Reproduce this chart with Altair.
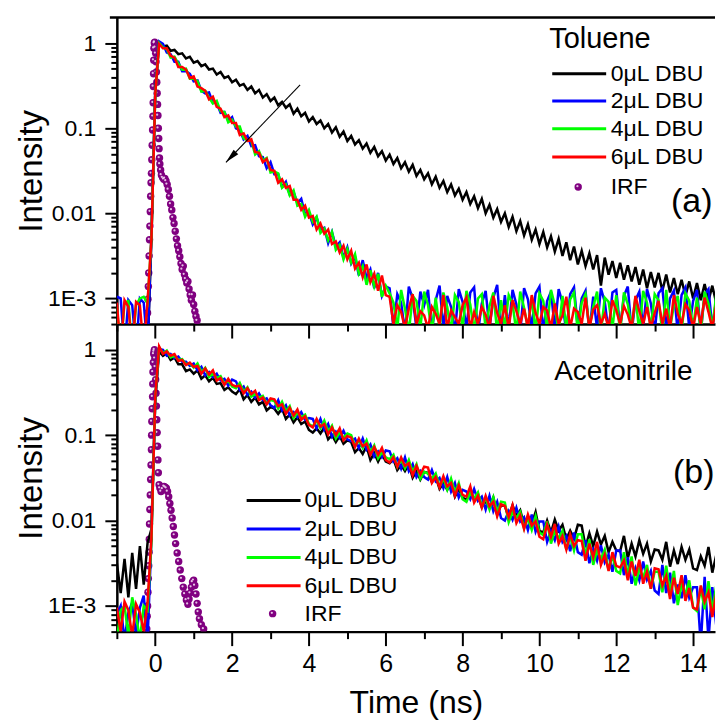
import altair as alt
import pandas as pd

# ---------------------------------------------------------------- data
# TCSPC channel times (ns), 0.1 ns channels from -1 to 15 ns
times = [round(-1.0 + 0.1 * i, 1) for i in range(161)]

SERIES_NAMES = ["0μL DBU", "2μL DBU", "4μL DBU", "6μL DBU"]
SERIES_COLORS = ["#000000", "#0000FF", "#00FF00", "#FF0000"]
IRF_COLOR = "#800080"
SOLVENTS = ["Toluene", "Acetonitrile"]
PANEL_TAGS = ["(a)", "(b)"]

# All traces are stored as decades below the normalised peak
# (intensity = 10 ** -value).  Values > 3.3 are empty channels (below axis).

# ---- panel (a) Toluene : t = -1.0 ... -0.2 (pre), -0.1/0.0/0.1 (rise)
tol_0_pre = [3.6, 3.6, 3.6, 3.6, 3.6, 3.6, 3.6, 3.6, 3.6]
tol_2_pre = [2.98, 3.0, 3.6, 3.02, 3.08, 3.6, 3.0, 3.05, 3.6]
tol_4_pre = [3.1, 3.6, 3.05, 3.03, 3.6, 3.08, 3.0, 2.98, 3.06]
tol_6_pre = [3.05, 3.6, 3.02, 3.1, 3.6, 3.04, 3.08, 3.6, 3.03]
tol_0_rise = [2.3, 0.55, 0.0]
tol_2_rise = [2.25, 0.58, -0.02]
tol_4_rise = [2.3, 0.6, 0.0]
tol_6_rise = [2.3, 0.6, 0.01]

# t = 0.2 ... 15.0
tol_0_decay = [
    0.04, 0.03, 0.09, 0.08, 0.13, 0.12, 0.18, 0.16, 0.23,
    0.21, 0.27, 0.25, 0.31, 0.30, 0.37, 0.34, 0.41, 0.39, 0.46,
    0.43, 0.50, 0.48, 0.55, 0.51, 0.59, 0.55, 0.64, 0.60, 0.68,
    0.64, 0.73, 0.69, 0.76, 0.72, 0.83, 0.77, 0.86, 0.82, 0.92,
    0.87, 0.95, 0.91, 1.00, 0.95, 1.05, 0.99, 1.10, 1.04, 1.15,
    1.09, 1.19, 1.14, 1.24, 1.18, 1.29, 1.22, 1.33, 1.27, 1.38,
    1.31, 1.42, 1.35, 1.47, 1.40, 1.51, 1.43, 1.56, 1.49, 1.60,
    1.53, 1.66, 1.57, 1.70, 1.62, 1.75, 1.66, 1.79, 1.71, 1.84,
    1.75, 1.89, 1.80, 1.94, 1.83, 2.00, 1.90, 2.05, 1.95, 2.10,
    2.00, 2.16, 2.04, 2.21, 2.09, 2.26, 2.13, 2.31, 2.19, 2.36,
    2.22, 2.40, 2.27, 2.45, 2.30, 2.50, 2.34, 2.55, 2.39, 2.60,
    2.44, 2.62, 2.47, 2.66, 2.49, 2.85, 2.52, 2.72, 2.56, 2.76,
    2.58, 2.78, 2.61, 2.80, 2.63, 2.84, 2.66, 2.88, 2.69, 2.87,
    2.70, 2.91, 2.72, 2.93, 2.76, 2.95, 2.78, 2.97, 2.80, 3.00,
    2.82, 3.02, 2.83, 3.03, 2.85, 3.05, 2.86, 3.07, 2.88, 3.08,
]
# t = 0.2 ... 6.0
tol_2_decay = [
    0.01, 0.11, 0.13, 0.22, 0.22, 0.33, 0.33, 0.36, 0.45, 0.44,
    0.56, 0.59, 0.58, 0.70, 0.70, 0.82, 0.81, 0.91, 0.87, 1.00,
    1.02, 1.13, 1.09, 1.21, 1.20, 1.33, 1.34, 1.47, 1.40, 1.54,
    1.54, 1.69, 1.63, 1.78, 1.75, 1.88, 1.83, 2.01, 1.99, 2.13,
    2.05, 2.19, 2.17, 2.35, 2.22, 2.39, 2.34, 2.52, 2.40, 2.59,
    2.51, 2.73, 2.55, 2.76, 2.66, 2.88, 2.70, 2.97, 2.86,
]
tol_4_decay = [
    0.05, 0.07, 0.17, 0.16, 0.24, 0.31, 0.30, 0.42, 0.42, 0.45,
    0.57, 0.56, 0.64, 0.71, 0.68, 0.80, 0.81, 0.93, 0.90, 0.98,
    0.98, 1.12, 1.14, 1.15, 1.31, 1.27, 1.38, 1.35, 1.52, 1.51,
    1.53, 1.70, 1.66, 1.79, 1.73, 1.91, 1.89, 2.04, 1.96, 2.10,
    2.04, 2.23, 2.18, 2.32, 2.22, 2.43, 2.37, 2.54, 2.42, 2.58,
    2.48, 2.71, 2.62, 2.84, 2.67, 2.86, 2.71, 2.98, 2.85,
]
tol_6_decay = [
    0.06, 0.06, 0.15, 0.17, 0.28, 0.28, 0.31, 0.41, 0.39, 0.51,
    0.53, 0.56, 0.66, 0.63, 0.75, 0.77, 0.87, 0.85, 0.94, 0.94,
    1.08, 1.06, 1.15, 1.13, 1.28, 1.29, 1.40, 1.36, 1.49, 1.50,
    1.64, 1.60, 1.70, 1.68, 1.84, 1.84, 1.96, 1.91, 2.05, 2.03,
    2.19, 2.12, 2.24, 2.19, 2.36, 2.33, 2.46, 2.38, 2.54, 2.44,
    2.65, 2.58, 2.75, 2.60, 2.81, 2.71, 2.91, 2.73, 2.96,
]
# background after decay, t = 6.1 ... 15.0
tol_2_floor = [
    2.88, 3.35, 2.95, 3.05, 3.4, 2.86, 3.0, 3.35, 2.92, 3.08,
    2.9, 3.4, 3.02, 2.85, 3.35, 2.97, 3.1, 3.4, 2.89, 3.04,
    3.35, 2.93, 2.87, 3.4, 3.06, 2.91, 3.35, 2.99, 2.84, 3.4,
    2.96, 3.35, 2.9, 3.07, 3.4, 2.88, 3.01, 3.35, 2.94, 2.86,
    3.4, 3.03, 2.92, 3.35, 2.89, 3.05, 3.4, 2.95, 2.87, 3.35,
    3.0, 2.91, 3.4, 2.98, 3.35, 2.88, 3.04, 3.4, 2.93, 2.9,
    3.35, 2.97, 2.86, 3.4, 3.02, 2.92, 3.35, 2.89, 3.06, 3.4,
    2.94, 2.88, 3.35, 3.0, 2.91, 3.4, 2.96, 2.87, 3.35, 3.03,
    2.9, 3.4, 2.95, 2.89, 3.35, 3.01, 2.93, 3.4, 2.88, 2.97,
]
tol_4_floor = [
    2.94, 3.05, 3.35, 2.9, 3.12, 3.4, 2.97, 3.03, 3.35, 2.92,
    3.08, 3.4, 2.99, 3.35, 2.93, 3.1, 3.4, 2.96, 3.04, 3.35,
    2.91, 3.07, 3.4, 3.0, 2.95, 3.35, 3.09, 2.93, 3.4, 3.02,
    3.35, 2.96, 3.06, 3.4, 2.92, 3.11, 3.35, 2.98, 3.4, 2.94,
    3.03, 3.35, 2.9, 3.08, 3.4, 2.97, 3.35, 3.01, 2.93, 3.4,
    3.05, 2.95, 3.35, 3.1, 2.92, 3.4, 2.99, 3.04, 3.35, 2.96,
    3.4, 2.93, 3.07, 3.35, 2.98, 3.4, 2.91, 3.05, 3.35, 2.95,
    3.02, 3.4, 2.9, 3.35, 3.08, 2.97, 3.4, 2.94, 3.03, 3.35,
    2.99, 3.4, 2.92, 3.06, 3.35, 2.96, 3.01, 3.4, 2.94, 3.04,
]
tol_6_floor = [
    2.98, 3.3, 3.08, 3.16, 3.35, 3.12, 2.95, 3.3, 3.15, 3.2,
    3.35, 3.1, 3.18, 3.3, 2.96, 3.35, 3.14, 3.22, 3.3, 3.08,
    2.99, 3.35, 3.16, 3.3, 3.1, 3.19, 3.35, 2.97, 3.17, 3.3,
    3.08, 3.35, 3.02, 3.15, 3.3, 3.12, 3.35, 2.96, 3.17, 3.3,
    3.1, 3.14, 3.35, 3.06, 3.3, 3.2, 2.98, 3.35, 3.12, 3.16,
    3.3, 2.99, 3.35, 3.13, 3.08, 3.3, 3.18, 3.35, 3.02, 3.14,
    3.3, 3.09, 3.19, 3.35, 2.97, 3.15, 3.3, 3.1, 3.35, 3.17,
    3.03, 3.3, 3.12, 3.35, 2.96, 3.18, 3.3, 3.07, 3.14, 3.35,
    3.1, 3.3, 2.99, 3.16, 3.35, 3.08, 3.13, 3.3, 3.02, 3.15,
]

# ---- panel (b) Acetonitrile
ace_0_pre = [2.5, 2.85, 2.45, 2.9, 2.38, 2.8, 2.3, 2.75, 2.26]
ace_2_pre = [3.1, 3.0, 3.4, 3.08, 2.96, 3.35, 3.02, 2.88, 3.4]
ace_4_pre = [3.4, 3.05, 3.0, 3.35, 2.9, 3.1, 3.4, 3.0, 3.05]
ace_6_pre = [3.02, 3.3, 2.95, 3.05, 3.35, 2.98, 3.08, 3.3, 2.96]
ace_0_rise = [2.1, 0.6, 0.02]
ace_2_rise = [2.2, 0.55, -0.01]
ace_4_rise = [2.25, 0.55, -0.03]
ace_6_rise = [2.2, 0.55, -0.04]

ace_0_decay = [
    0.07, 0.04, 0.12, 0.09, 0.17, 0.17, 0.25, 0.23, 0.28,
    0.24, 0.34, 0.30, 0.37, 0.33, 0.40, 0.39, 0.47, 0.44, 0.49,
    0.52, 0.46, 0.58, 0.53, 0.61, 0.56, 0.64, 0.61, 0.71, 0.67,
    0.69, 0.75, 0.69, 0.81, 0.76, 0.85, 0.79, 0.87, 0.84, 0.94,
    0.97, 0.92, 0.98, 0.91, 1.05, 1.00, 1.08, 1.01, 1.10, 1.06,
    1.08, 1.20, 1.15, 1.22, 1.13, 1.29, 1.21, 1.31, 1.22, 1.31,
    1.33, 1.28, 1.41, 1.35, 1.42, 1.34, 1.50, 1.42, 1.52, 1.43,
    1.44, 1.55, 1.49, 1.63, 1.56, 1.64, 1.54, 1.72, 1.63, 1.73,
    1.76, 1.64, 1.76, 1.69, 1.84, 1.77, 1.85, 1.73, 1.93, 1.82,
    1.83, 1.96, 1.82, 1.95, 1.88, 2.05, 1.95, 2.04, 1.90, 2.12,
    2.14, 2.00, 2.14, 1.99, 2.12, 2.05, 2.22, 2.12, 2.21, 2.05,
    2.06, 2.31, 2.15, 2.30, 2.13, 2.28, 2.18, 2.37, 2.25, 2.35,
    2.36, 2.18, 2.44, 2.27, 2.42, 2.23, 2.39, 2.27, 2.48, 2.34,
    2.35, 2.46, 2.25, 2.54, 2.35, 2.51, 2.31, 2.46, 2.34, 2.56,
    2.58, 2.42, 2.53, 2.31, 2.61, 2.41, 2.58, 2.36, 2.53, 2.39,
]
ace_2_decay = [
    0.00, 0.07, 0.05, 0.10, 0.08, 0.14, 0.14, 0.19, 0.16,
    0.24, 0.20, 0.30, 0.26, 0.32, 0.28, 0.36, 0.34, 0.42, 0.35,
    0.37, 0.47, 0.43, 0.53, 0.49, 0.56, 0.51, 0.59, 0.57, 0.65,
    0.68, 0.59, 0.71, 0.65, 0.77, 0.73, 0.79, 0.73, 0.82, 0.80,
    0.81, 0.92, 0.81, 0.94, 0.87, 1.02, 0.96, 1.03, 0.95, 1.05,
    1.07, 1.04, 1.15, 1.04, 1.17, 1.11, 1.25, 1.19, 1.26, 1.18,
    1.19, 1.31, 1.27, 1.39, 1.26, 1.42, 1.34, 1.49, 1.42, 1.49,
    1.52, 1.41, 1.54, 1.50, 1.62, 1.49, 1.66, 1.56, 1.73, 1.64,
    1.66, 1.75, 1.63, 1.77, 1.72, 1.87, 1.71, 1.89, 1.78, 1.97,
    2.00, 1.89, 1.99, 1.85, 2.01, 1.96, 2.11, 1.93, 2.13, 2.01,
    2.01, 2.25, 2.12, 2.23, 2.07, 2.25, 2.18, 2.36, 2.14, 2.37,
    2.40, 2.23, 2.50, 2.34, 2.47, 2.29, 2.49, 2.40, 2.60, 2.35,
    2.35, 2.64, 2.43, 2.74, 2.56, 2.70, 2.48, 2.69, 2.59, 2.82,
    2.86, 2.52, 2.85, 2.61, 2.97, 2.75, 2.91, 2.64, 2.90, 2.78,
    2.78, 3.45, 2.66, 3.40, 2.78, 3.22, 2.94, 3.13, 2.80, 3.12,
]
ace_4_decay = [
    0.04, 0.01, 0.09, 0.07, 0.12, 0.11, 0.17, 0.16, 0.21,
    0.16, 0.26, 0.21, 0.32, 0.28, 0.33, 0.31, 0.40, 0.36, 0.43,
    0.45, 0.39, 0.49, 0.44, 0.55, 0.52, 0.56, 0.54, 0.63, 0.59,
    0.60, 0.69, 0.61, 0.72, 0.66, 0.80, 0.74, 0.79, 0.76, 0.87,
    0.90, 0.83, 0.92, 0.83, 0.96, 0.89, 1.04, 0.97, 1.03, 0.98,
    1.00, 1.13, 1.06, 1.15, 1.06, 1.20, 1.12, 1.27, 1.20, 1.26,
    1.28, 1.23, 1.37, 1.28, 1.39, 1.29, 1.43, 1.34, 1.51, 1.43,
    1.45, 1.51, 1.45, 1.60, 1.51, 1.64, 1.51, 1.67, 1.56, 1.75,
    1.78, 1.67, 1.74, 1.67, 1.84, 1.74, 1.87, 1.73, 1.90, 1.78,
    1.79, 2.02, 1.90, 1.97, 1.90, 2.09, 1.97, 2.11, 1.95, 2.14,
    2.17, 2.01, 2.27, 2.12, 2.21, 2.12, 2.34, 2.19, 2.35, 2.16,
    2.16, 2.41, 2.22, 2.52, 2.35, 2.45, 2.34, 2.58, 2.41, 2.59,
    2.62, 2.37, 2.64, 2.42, 2.76, 2.56, 2.67, 2.52, 2.80, 2.60,
    2.60, 2.84, 2.53, 2.85, 2.59, 2.99, 2.75, 2.86, 2.70, 3.02,
    3.06, 2.79, 3.04, 2.71, 3.06, 2.77, 3.21, 2.94, 3.07, 2.89,
]
ace_6_decay = [
    0.05, 0.02, 0.07, 0.05, 0.13, 0.12, 0.18, 0.15, 0.20,
    0.19, 0.28, 0.22, 0.29, 0.24, 0.36, 0.33, 0.41, 0.34, 0.41,
    0.43, 0.42, 0.51, 0.45, 0.52, 0.48, 0.59, 0.56, 0.64, 0.57,
    0.58, 0.66, 0.64, 0.75, 0.68, 0.77, 0.70, 0.82, 0.78, 0.88,
    0.91, 0.81, 0.90, 0.87, 0.99, 0.91, 1.00, 0.92, 1.06, 1.01,
    1.03, 1.14, 1.04, 1.13, 1.10, 1.23, 1.14, 1.23, 1.15, 1.29,
    1.32, 1.26, 1.37, 1.26, 1.36, 1.33, 1.47, 1.36, 1.46, 1.37,
    1.38, 1.56, 1.49, 1.61, 1.48, 1.60, 1.56, 1.71, 1.59, 1.70,
    1.72, 1.60, 1.79, 1.71, 1.85, 1.71, 1.83, 1.78, 1.95, 1.81,
    1.83, 1.96, 1.82, 2.03, 1.94, 2.10, 1.93, 2.06, 2.01, 2.19,
    2.22, 2.05, 2.19, 2.04, 2.27, 2.18, 2.34, 2.16, 2.30, 2.23,
    2.24, 2.47, 2.27, 2.43, 2.25, 2.52, 2.40, 2.59, 2.37, 2.53,
    2.55, 2.47, 2.70, 2.48, 2.65, 2.46, 2.74, 2.60, 2.80, 2.56,
    2.57, 2.76, 2.65, 2.92, 2.67, 2.86, 2.64, 2.94, 2.79, 3.02,
    3.04, 2.76, 2.95, 2.84, 3.13, 2.86, 3.06, 2.82, 3.15, 2.99,
]

# ---- instrument response functions (time ns, decades below peak)
irf_tol_t = [
    -0.20, -0.19, -0.18, -0.17, -0.16, -0.15, -0.14, -0.13, -0.12, -0.11,
    -0.10, -0.09, -0.08, -0.07, -0.06, -0.055, -0.05, -0.045, -0.04, -0.035,
    -0.025, -0.015,
    0.0, 0.01, 0.02, 0.03, 0.04, 0.05, 0.06, 0.07, 0.08, 0.09,
    0.10, 0.11, 0.12, 0.14, 0.16,
    0.19, 0.22, 0.25, 0.28, 0.31, 0.34, 0.37, 0.40, 0.43, 0.46,
    0.49, 0.52, 0.55, 0.58, 0.61, 0.64, 0.67, 0.70, 0.73, 0.76,
    0.79, 0.82, 0.85, 0.88, 0.91, 0.94, 0.97, 1.00, 1.03, 1.06,
    1.09,
]
irf_tol_dec = [
    3.17, 3.01, 2.86, 2.70, 2.50, 2.31, 2.15, 1.98, 1.80, 1.64,
    1.53, 1.37, 1.20, 1.02, 0.86, 0.70, 0.51, 0.36, 0.20, 0.06,
    0.0, -0.01,
    0.05, 0.12, 0.22, 0.34, 0.46, 0.59, 0.72, 0.85, 1.0, 1.12,
    1.24, 1.35, 1.42, 1.49, 1.55,
    1.58, 1.60, 1.59, 1.62, 1.66, 1.72, 1.80, 1.89, 1.96, 2.05,
    2.12, 2.21, 2.30, 2.38, 2.44, 2.51, 2.59, 2.66, 2.62, 2.72,
    2.77, 2.82, 2.80, 2.89, 2.96, 3.02, 2.96, 3.07, 3.15, 3.21,
    3.26,
]
irf_ace_t = [
    -0.22, -0.21, -0.20, -0.19, -0.18, -0.17, -0.16, -0.155, -0.15, -0.14,
    -0.13, -0.12, -0.11, -0.10, -0.095, -0.09, -0.08, -0.07, -0.065, -0.06,
    -0.05, -0.04,
    -0.03, -0.02,
    -0.01, 0.0, 0.01, 0.02, 0.03, 0.04, 0.05, 0.06, 0.07, 0.08, 0.10,
    0.12, 0.15, 0.19, 0.23, 0.26, 0.29, 0.32, 0.35, 0.38, 0.41,
    0.44, 0.47, 0.50, 0.53, 0.57, 0.61, 0.65, 0.69, 0.73, 0.77,
    0.81, 0.85, 0.88, 0.91, 0.94, 0.97, 1.0, 1.03, 1.06, 1.09,
    1.12, 1.15, 1.2, 1.26,
]
irf_ace_dec = [
    3.27, 3.12, 3.0, 2.84, 2.68, 2.53, 2.37, 2.22, 2.04, 1.87,
    1.70, 1.52, 1.35, 1.17, 1.0, 0.84, 0.69, 0.55, 0.40, 0.26,
    0.15, 0.05,
    0.02, 0.0,
    0.1, 0.2, 0.35, 0.51, 0.66, 0.82, 0.97, 1.13, 1.29, 1.44, 1.58,
    1.62, 1.66, 1.63, 1.60, 1.61, 1.62, 1.66, 1.72, 1.80, 1.88,
    1.97, 2.07, 2.17, 2.27, 2.38, 2.48, 2.58, 2.68, 2.78, 2.86,
    2.93, 2.98, 2.92, 2.85, 2.78, 2.72, 2.70, 2.76, 2.86, 2.97,
    3.07, 3.15, 3.22, 3.27,
]

# arrow in panel (a): (time ns, decades below peak) of tail and head
arrow_t = [3.77, 1.84]
arrow_dec = [0.49, 1.40]

# ---------------------------------------------------------------- helpers
FONT = "Liberation Sans"
X_MAX = 14.57
W, H_TOP, H_BOT = 599, 307, 308


def trace_df(values):
    assert len(values) == len(times), len(values)
    df = pd.DataFrame({"t": times, "I": [10 ** (-v) for v in values]})
    return df[df.t <= X_MAX + 0.05].reset_index(drop=True)


def points_df(ts, decs):
    assert len(ts) == len(decs), (len(ts), len(decs))
    return pd.DataFrame({"t": ts, "I": [10 ** (-v) for v in decs]})


y_ticks = []
for e in (-4, -3, -2, -1, 0):
    for m in range(1, 10):
        v = round(m * 10 ** e, 6)
        if 5e-4 <= v <= 1:
            y_ticks.append(v)

Y_MINOR = "abs(log(datum.value)/LN10 - round(log(datum.value)/LN10)) > 0.01"
Y_LABELS = ("abs(datum.value-1)<1e-9 ? '1' : abs(datum.value-0.1)<1e-9 ? '0.1' : "
            "abs(datum.value-0.01)<1e-9 ? '0.01' : abs(datum.value-0.001)<1e-9 ? '1E-3' : ''")


def enc_x(show_labels):
    common = dict(
        values=list(range(-1, 15)),
        tickSize={"condition": {"test": "datum.value % 2 != 0", "value": 7}, "value": 14},
        grid=False,
        labelFlush=False,
        labelOverlap=False,
    )
    if show_labels:
        ax = alt.Axis(
            labelExpr="datum.value % 2 == 0 ? format(datum.value, 'd') : ''",
            labelFontSize=25, labelPadding=6,
            title="Time (ns)", titleFontSize=32, titlePadding=11,
            **common)
    else:
        ax = alt.Axis(labels=False, title=None, **common)
    return alt.X("t:Q", scale=alt.Scale(domain=[-1, X_MAX], nice=False, zero=False), axis=ax)


def enc_y(title_pad):
    ax = alt.Axis(
        values=y_ticks,
        tickSize={"condition": {"test": Y_MINOR, "value": 6}, "value": 12},
        labelExpr=Y_LABELS, labelFontSize=23, labelPadding=9,
        labelOverlap=False, grid=False,
        title="Intensity", titleFontSize=33, titlePadding=title_pad,
    )
    return alt.Y("I:Q", scale=alt.Scale(type="log", domain=[5e-4, 2], nice=False), axis=ax)


def text_layer(txt, x, y, size):
    return alt.Chart(pd.DataFrame({"label": [txt]})).mark_text(
        align="left", baseline="middle", font=FONT, fontSize=size, color="black"
    ).encode(x=alt.value(x), y=alt.value(y), text="label:N")


def legend_layers(x0, x1, ys, dot, text_x):
    out = []
    for name, color, yy in zip(SERIES_NAMES, SERIES_COLORS, ys):
        out.append(alt.Chart(pd.DataFrame({"label": [name]})).mark_rule(
            color=color, strokeWidth=3).encode(x=alt.value(x0), x2=alt.value(x1), y=alt.value(yy)))
        out.append(text_layer(name, text_x, yy, 23))
    df = pd.DataFrame({"label": ["IRF"]})
    out.append(alt.Chart(df).mark_circle(size=55, color=IRF_COLOR, opacity=1).encode(
        x=alt.value(dot[0]), y=alt.value(dot[1])))
    out.append(alt.Chart(df).mark_circle(size=5, color="#eed6ee", opacity=0.9).encode(
        x=alt.value(dot[0] - 0.8), y=alt.value(dot[1] - 0.8)))
    out.append(text_layer("IRF", text_x, dot[1], 23))
    return out


def panel(traces, irf, show_x_labels, height, extras, y_title_pad):
    X, Y = enc_x(show_x_labels), enc_y(y_title_pad)
    layers = [
        alt.Chart(irf).mark_circle(size=55, color=IRF_COLOR, opacity=1, clip=True).encode(x=X, y=Y),
        alt.Chart(irf).mark_circle(size=5, color="#eed6ee", opacity=0.9, clip=True,
                                   xOffset=-0.8, yOffset=-0.8).encode(x=X, y=Y),
    ]
    for df, color in zip(traces, SERIES_COLORS):
        layers.append(alt.Chart(df).mark_line(color=color, strokeWidth=2.5, clip=True).encode(x=X, y=Y))
    for e in extras:
        layers.append(e(X, Y) if callable(e) else e)
    return alt.layer(*layers).properties(width=W, height=height)


# ---------------------------------------------------------------- panels
tol_traces = [
    trace_df(tol_0_pre + tol_0_rise + tol_0_decay),
    trace_df(tol_2_pre + tol_2_rise + tol_2_decay + tol_2_floor),
    trace_df(tol_4_pre + tol_4_rise + tol_4_decay + tol_4_floor),
    trace_df(tol_6_pre + tol_6_rise + tol_6_decay + tol_6_floor),
]
ace_traces = [
    trace_df(ace_0_pre + ace_0_rise + ace_0_decay),
    trace_df(ace_2_pre + ace_2_rise + ace_2_decay),
    trace_df(ace_4_pre + ace_4_rise + ace_4_decay),
    trace_df(ace_6_pre + ace_6_rise + ace_6_decay),
]
arrow_df = points_df(arrow_t, arrow_dec)

top_frame = alt.Chart(pd.DataFrame({"k": [0]})).mark_rule(color="black", strokeWidth=2.5).encode(
    x=alt.value(-7), x2=alt.value(W), y=alt.value(0))

arrow_line = lambda X, Y: alt.Chart(arrow_df).mark_line(color="black", strokeWidth=1.1).encode(x=X, y=Y)
arrow_head = lambda X, Y: alt.Chart(arrow_df.iloc[[1]]).mark_point(
    shape="M0,0L0.8,3.6L-0.8,3.6Z", size=64, angle=224, filled=True, color="black", opacity=1
).encode(x=X, y=Y)

top_extras = [top_frame, arrow_line, arrow_head,
              text_layer(SOLVENTS[0], 433, 22, 29),
              text_layer(PANEL_TAGS[0], 555, 185, 34)]
top_extras += legend_layers(436, 490, [56.3, 83.7, 111.3, 139.7], (462, 169.7), 494.5)

bot_extras = [text_layer(SOLVENTS[1], 438, 48, 28),
              text_layer(PANEL_TAGS[1], 557, 149, 34)]
bot_extras += legend_layers(130, 184, [176.7, 205.3, 233.7, 262], (156, 290), 188)


def build(y_title_pad, pad):
    top = panel(tol_traces, points_df(irf_tol_t, irf_tol_dec), False, H_TOP, top_extras, y_title_pad)
    bottom = panel(ace_traces, points_df(irf_ace_t, irf_ace_dec), True, H_BOT, bot_extras, y_title_pad)
    return alt.vconcat(top, bottom, spacing=0, bounds="flush").properties(
        padding=pad
    ).configure_view(stroke=None).configure_axis(
        domainColor="black", domainWidth=2.5, tickColor="black", tickWidth=2,
        labelFont=FONT, labelColor="black", titleFont=FONT, titleColor="black",
        titleFontWeight="normal",
    )


try:
    chart = build(-1, {"left": 7, "top": 7, "right": 0, "bottom": 4})
    chart.save("out.html", embed_options={"renderer": "svg", "actions": False})
except Exception:
    chart = build(0, {"left": 6, "top": 7, "right": 0, "bottom": 4})
    chart.save("out.html", embed_options={"renderer": "svg", "actions": False})
